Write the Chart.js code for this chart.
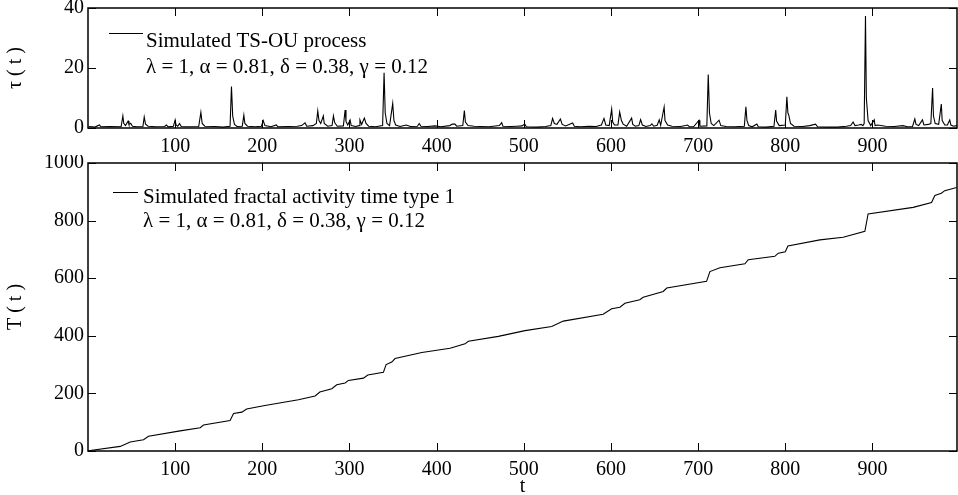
<!DOCTYPE html>
<html>
<head>
<meta charset="utf-8">
<script src="https://cdn.jsdelivr.net/npm/chart.js@4/dist/chart.umd.min.js"></script>
<style>
  html, body { margin: 0; padding: 0; background: #fff; }
  #wrap { position: relative; width: 958px; height: 495px; }
  #c1 { position: absolute; left: 0; top: 0; }
  #c2 { position: absolute; left: 0; top: 155px; }
</style>
</head>
<body>
<div id="wrap">
  <canvas id="c1" width="958" height="155"></canvas>
  <canvas id="c2" width="958" height="340"></canvas>
</div>
<script>
// tick values
const xTicks = [100, 200, 300, 400, 500, 600, 700, 800, 900];
const tauTicks = [0, 20, 40];
const bigTTicks = [0, 200, 400, 600, 800, 1000];

// tau(t): [t, value]
const tauSeries = [
  [1,0.5],[8,0.3],[13,1.0],[15,0.4],[25,0.5],[38,0.4],[40,4.0],[41,1.6],[43,0.8],[46,2.3],[47,1.2],[49,1.6],[51,0.6],
  [56,0.4],[63,0.5],[64.5,3.7],[66,1.3],[69,0.6],[78,0.4],[88,0.5],[90,1.0],[92,0.4],[98,0.6],[100,2.7],[101,1.0],
  [103,0.6],[105,1.5],[107,0.5],[115,0.4],[127,0.5],[129.5,5.2],[131,1.5],[134,0.6],[145,0.5],[155,0.3],[163,0.6],
  [164.6,13.8],[166,4],[168,1.2],[171,0.5],[177,0.6],[178.8,4.3],[180,1.5],[183,0.6],[192,0.4],[199,0.6],[201,2.5],
  [203,0.8],[210,0.4],[216,1.0],[218,0.4],[230,0.5],[240,0.6],[245,0.8],[249,1.7],[251,0.6],[258,0.8],[262,1.5],
  [263.6,5.7],[265,2.5],[267,1.5],[270,4.0],[271,1.5],[275,0.6],[280,0.8],[281.6,4.0],[283,1.8],[286,0.6],[293,0.7],
  [295,6.0],[296,2.2],[298,1.0],[300.7,2.7],[302,0.8],[307,0.5],[311,0.8],[312,2.7],[314,1.2],[317,3.3],[319,1.5],
  [322,0.6],[330,0.4],[338,0.8],[339.7,18.4],[341,5],[343,1.5],[346,0.8],[349.6,8.2],[351,2.5],[353,1.0],[358,0.5],
  [365,1.0],[370,0.5],[378,0.6],[380,1.5],[382,0.6],[390,0.5],[398,0.7],[405,0.4],[415,0.8],[418,1.3],[421,1.3],
  [423,0.6],[430,0.8],[431.8,5.8],[433,2.0],[436,0.8],[443,0.6],[450,0.5],[460,0.4],[472,0.8],[474.6,1.8],[476,0.6],
  [485,0.5],[492,0.6],[498,0.7],[501,1.3],[503,0.4],[515,0.3],[525,0.5],[531,0.8],[533,3.2],[535,1.5],[538,1.2],
  [542,3.0],[544,1.2],[548,0.7],[556,1.7],[558,0.6],[565,0.4],[575,0.6],[583,0.5],[589,1.0],[592,3.2],[594,1.0],
  [598,0.8],[600.8,6.3],[602,2],[604,1.0],[608,1.0],[610,5.3],[612,2.5],[614,1.3],[618,0.6],[623.7,3.3],[625,1.2],
  [628,0.6],[632,0.8],[634,2.8],[636,1.0],[640,0.5],[645,0.8],[647,1.4],[649,0.6],[653,0.9],[655.4,2.7],[657,0.9],
  [661,7.0],[662,2.5],[665,1.0],[670,0.6],[680,0.5],[688,1.0],[690,0.4],[695,0.5],[701,2.6],[702,0.6],[710,0.7],
  [711.6,17.8],[713,5],[715,1.5],[718,0.8],[724,2.6],[726,0.8],[732,0.5],[742,0.4],[753,0.6],[754.8,7.1],[756,2.5],
  [758,0.8],[762,0.4],[767.4,1.3],[769,0.4],[778,0.3],[787,0.6],[789,6.0],[790,2.3],[793,0.8],[800,1.0],[801.8,10.4],
  [803,5],[804,4.3],[806,1.5],[810,0.6],[820,0.5],[828,0.8],[834.7,1.3],[837,0.4],[848,0.3],[860,0.3],[870,0.6],
  [875,0.8],[877.8,2.0],[880,0.8],[884,1.0],[887,1.2],[889,0.8],[890.5,1.5],[892,37.3],[893,10],[895,2.5],[898,0.8],
  [902,2.7],[903,0.8],[906,1.0],[915,0.6],[925,0.5],[935,0.8],[940,0.4],[946,0.5],[948.6,3.0],[950,1.2],[953,0.8],
  [957.4,2.7],[959,1.0],[964,1.2],[967,1.5],[969,13.3],[970,4],[972,1.5],[976,1.2],[979,8.0],[980,2.5],[983,1.0],
  [986,1.0],[988.7,2.7],[990,1.0],[993,0.6],[997,0.8]
];

// T(t): [t, value]
const bigTSeries = [
  [1,0],[2.5,2],[37,16],[48.4,31],[63.7,39],[69.4,51],[105.7,70],[128.7,81],[132.5,90],[163,106],[167,130],
  [176.5,135],[182,146],[203,158],[241.4,178],[260.6,191],[266,205],[279.7,216],[285.4,230],[295,236],[298.8,245],
  [316,253],[321,264],[338.9,273],[342,300],[348.5,309],[352.3,321],[383,342],[415.4,357],[432.6,372],[436.4,381],
  [470.8,398],[501.4,418],[532,432],[545.3,451],[591,475],[600.8,494],[610.3,499],[616,513],[633,525],[637,534],
  [660,554],[664,566],[709.7,589],[713.5,623],[725,636],[753.7,650],[757.5,664],[788,676],[792,687],[800,692],
  [803,712],[839.7,733],[866.4,742],[891.3,763],[895,823],[946.7,846],[967.8,863],[971.6,887],[979,895],
  [983,904],[996.5,915]
];

const serif = '"Liberation Serif", "Times New Roman", serif';

const boxTicks = {
  id: 'boxTicks',
  afterDraw(chart, args, opts) {
    const { ctx, chartArea: a, scales: { x, y } } = chart;
    const len = opts.len;
    ctx.save();
    ctx.strokeStyle = '#000';
    ctx.lineWidth = 1;
    ctx.beginPath();
    x.ticks.forEach(t => {
      const px = Math.round(x.getPixelForValue(t.value)) + 0.5;
      ctx.moveTo(px, a.bottom); ctx.lineTo(px, a.bottom - len);
      ctx.moveTo(px, a.top); ctx.lineTo(px, a.top + len);
    });
    y.ticks.forEach(t => {
      const py = Math.round(y.getPixelForValue(t.value)) + 0.5;
      ctx.moveTo(a.left, py); ctx.lineTo(a.left + len, py);
      ctx.moveTo(a.right, py); ctx.lineTo(a.right - len, py);
    });
    ctx.stroke();
    ctx.lineWidth = 1.5;
    ctx.strokeRect(a.left, a.top, a.right - a.left, a.bottom - a.top);
    ctx.restore();
  }
};

const legendText = {
  id: 'legendText',
  afterDraw(chart, args, opts) {
    const ctx = chart.ctx;
    ctx.save();
    ctx.strokeStyle = '#000';
    ctx.lineWidth = 1;
    ctx.beginPath();
    ctx.moveTo(opts.x0, opts.ly + 0.5);
    ctx.lineTo(opts.x1, opts.ly + 0.5);
    ctx.stroke();
    ctx.fillStyle = '#000';
    ctx.font = '21px ' + serif;
    ctx.textBaseline = 'alphabetic';
    opts.lines.forEach((s, i) => ctx.fillText(s, opts.tx, opts.baselines[i]));
    ctx.restore();
  }
};

function makeChart(id, series, yTicks, yMax, cfg) {
  return new Chart(document.getElementById(id), {
    type: 'line',
    data: {
      datasets: [{
        data: series.map(p => ({ x: p[0], y: p[1] })),
        borderColor: '#000',
        borderWidth: 1.1,
        pointRadius: 0,
        tension: 0,
        fill: false
      }]
    },
    options: {
      responsive: false,
      animation: false,
      layout: { padding: { left: 0, right: 1, top: cfg.top, bottom: 0 } },
      plugins: {
        legend: { display: false },
        tooltip: { enabled: false },
        boxTicks: { len: 8 },
        legendText: cfg.legend
      },
      scales: {
        x: {
          type: 'linear',
          min: 0,
          max: 997,
          afterBuildTicks: s => { s.ticks = xTicks.map(v => ({ value: v })); },
          afterFit: s => { s.height = cfg.xh; s.paddingLeft = 0; s.paddingRight = 0; },
          grid: { display: false, drawTicks: false },
          border: { display: false },
          ticks: { color: '#000', padding: 7, maxRotation: 0, callback: v => String(v), font: { family: serif, size: 20 } },
          title: cfg.xTitle
        },
        y: {
          min: 0,
          max: yMax,
          afterBuildTicks: s => { s.ticks = yTicks.map(v => ({ value: v })); },
          afterFit: s => { s.width = 88; s.paddingTop = 0; s.paddingBottom = 0; },
          grid: { display: false, drawTicks: false },
          border: { display: false },
          ticks: { color: '#000', padding: 4, callback: v => String(v), font: { family: serif, size: 20 } },
          title: { display: true, text: cfg.yTitle, color: '#000', padding: { top: 4, bottom: 0 }, font: { family: serif, size: 20 } }
        }
      }
    },
    plugins: [boxTicks, legendText]
  });
}

makeChart('c1', tauSeries, tauTicks, 40, {
  top: 8,
  xh: 27,
  yTitle: 'τ ( t )',
  xTitle: { display: false },
  legend: {
    x0: 109, x1: 143, ly: 33, tx: 146, baselines: [47, 73],
    lines: ['Simulated TS-OU process', 'λ = 1, α = 0.81, δ = 0.38, γ = 0.12']
  }
});

makeChart('c2', bigTSeries, bigTTicks, 1000, {
  top: 8,
  xh: 44,
  yTitle: 'T ( t )',
  xTitle: { display: true, text: 't', color: '#000', padding: { top: -4, bottom: -4 }, font: { family: serif, size: 20 } },
  legend: {
    x0: 113, x1: 138, ly: 37, tx: 143, baselines: [48, 72],
    lines: ['Simulated fractal activity time type 1', 'λ = 1, α = 0.81, δ = 0.38, γ = 0.12']
  }
});
</script>
</body>
</html>
